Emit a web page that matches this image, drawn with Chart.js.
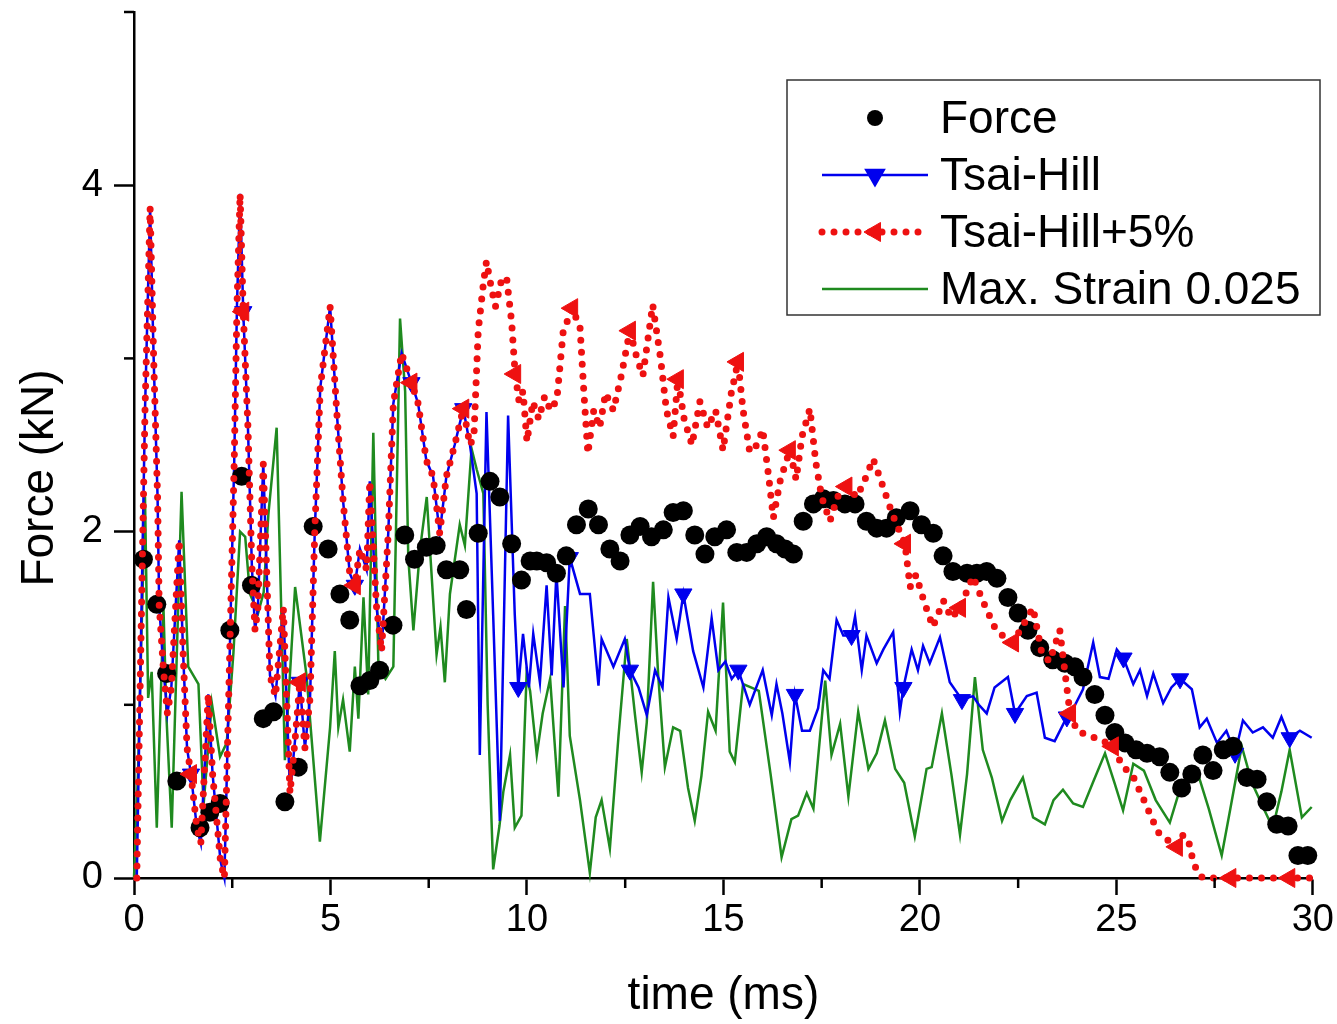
<!DOCTYPE html>
<html>
<head>
<meta charset="utf-8">
<script src="https://cdn.jsdelivr.net/npm/chart.js@4.4.1/dist/chart.umd.min.js"></script>
<style>
  body { margin: 0; background: #fff; }
  #wrap { width: 1337px; height: 1024px; }
</style>
</head>
<body>
<div id="wrap"><canvas id="forceChart"></canvas></div>
<script>
// measured force (black dots)
var forceT = [0.24, 0.58, 0.83, 1.09, 1.68, 1.93, 2.19, 2.44, 2.74, 2.99,
  3.29, 3.55, 3.84, 4.18, 4.56, 4.94, 5.24, 5.49, 5.75, 6.0,
  6.25, 6.59, 6.89, 7.14, 7.44, 7.69, 7.95, 8.29, 8.46, 8.76,
  9.06, 9.31, 9.61, 9.86, 10.08, 10.25, 10.5, 10.75, 11.0, 11.26,
  11.56, 11.82, 12.11, 12.37, 12.62, 12.88, 13.17, 13.47, 13.72, 13.98,
  14.27, 14.53, 14.78, 15.08, 15.34, 15.59, 15.85, 16.1, 16.35, 16.57,
  16.78, 17.03, 17.29, 17.54, 17.8, 18.09, 18.35, 18.64, 18.9, 19.15,
  19.4, 19.75, 20.04, 20.34, 20.59, 20.84, 21.2, 21.45, 21.7, 21.96,
  22.24, 22.5, 22.75, 23.05, 23.38, 23.69, 23.94, 24.15, 24.45, 24.71,
  24.96, 25.22, 25.5, 25.78, 26.1, 26.36, 26.66, 26.92, 27.2, 27.46,
  27.72, 27.97, 28.32, 28.58, 28.83, 29.08, 29.37, 29.62, 29.87];
var forceV = [1.84, 1.58, 1.18, 0.56, 0.29, 0.38, 0.43, 1.43, 2.32, 1.69,
  0.92, 0.96, 0.44, 0.64, 2.03, 1.90, 1.64, 1.49, 1.11, 1.14,
  1.20, 1.46, 1.98, 1.84, 1.91, 1.92, 1.78, 1.78, 1.55, 1.99,
  2.29, 2.20, 1.93, 1.72, 1.83, 1.83, 1.82, 1.76, 1.86, 2.04,
  2.13, 2.04, 1.90, 1.83, 1.98, 2.03, 1.97, 2.01, 2.11, 2.12,
  1.98, 1.87, 1.97, 2.01, 1.88, 1.88, 1.93, 1.97, 1.93, 1.90,
  1.87, 2.06, 2.16, 2.19, 2.18, 2.16, 2.16, 2.06, 2.02, 2.02,
  2.08, 2.12, 2.04, 1.99, 1.86, 1.77, 1.76, 1.76, 1.77, 1.73,
  1.62, 1.53, 1.43, 1.33, 1.26, 1.24, 1.22, 1.16, 1.06, 0.94,
  0.84, 0.78, 0.74, 0.72, 0.70, 0.61, 0.52, 0.60, 0.71, 0.62,
  0.74, 0.76, 0.58, 0.57, 0.44, 0.31, 0.30, 0.13, 0.13];

// both Tsai-Hill runs coincide up to ~8.5 ms
var sharedT = [0.07, 0.28, 0.41, 0.5, 0.6, 0.64, 0.75, 0.85, 0.95,
  1.15, 1.25, 1.35, 1.45, 1.6, 1.7, 1.89, 2.0, 2.1, 2.2,
  2.3, 2.45, 2.55, 2.62, 2.7, 2.78, 2.9, 3.0, 3.08, 3.15,
  3.29, 3.4, 3.46, 3.6, 3.8, 3.97, 4.1, 4.22, 4.35, 4.48,
  4.6, 4.74, 4.99, 5.16, 5.32, 5.49, 5.62, 5.75, 5.92, 6.0,
  6.17, 6.3, 6.47, 6.6, 6.81, 7.06, 7.23, 7.44, 7.61, 7.78,
  7.95, 8.16, 8.38, 8.55];
var sharedV = [0, 2.7, 3.87, 3.0, 2.2, 1.58, 1.2, 0.95, 1.1,
  1.95, 1.3, 0.75, 0.6, 0.29, 0.2, 1.06, 0.6, 0.35, 0.1,
  0.0, 1.43, 2.4, 3.3, 3.95, 3.27, 2.6, 1.8, 1.43, 1.55,
  2.39, 1.6, 1.17, 1.05, 1.56, 0.49, 0.8, 1.13, 0.75, 1.04,
  2.0, 2.83, 3.30, 2.69, 2.18, 1.76, 1.69, 1.90, 1.78, 2.29,
  1.57, 1.31, 1.99, 2.74, 3.03, 2.86, 2.74, 2.41, 2.32, 1.99,
  2.32, 2.50, 2.71, 2.50];

// Tsai-Hill after the split
var thT = [8.72, 8.8, 8.97, 9.14, 9.31, 9.52, 9.69, 9.78, 9.9, 10.05,
  10.16, 10.33, 10.5, 10.63, 10.75, 10.93, 11.09, 11.35, 11.6, 11.82,
  11.9, 12.2, 12.49, 12.62, 12.84, 13.05, 13.26, 13.45, 13.6, 13.81,
  13.98, 14.23, 14.49, 14.7, 14.87, 15.05, 15.21, 15.38, 15.67, 16.0,
  16.23, 16.35, 16.5, 16.69, 16.82, 17.0, 17.2, 17.41, 17.54, 17.7,
  17.88, 18.05, 18.26, 18.35, 18.52, 18.64, 18.9, 19.07, 19.32, 19.49,
  19.58, 19.79, 19.95, 20.08, 20.25, 20.51, 20.76, 21.07, 21.35, 21.5,
  21.7, 21.9, 22.24, 22.42, 22.72, 22.97, 23.18, 23.43, 23.74, 23.95,
  24.15, 24.41, 24.58, 24.8, 25.01, 25.18, 25.43, 25.6, 25.78, 25.94,
  26.19, 26.4, 26.62, 26.92, 27.12, 27.3, 27.56, 27.8, 28.02, 28.22,
  28.47, 28.73, 28.98, 29.2, 29.41, 29.67, 29.97];
var thV = [2.22, 0.71, 2.69, 1.52, 0.33, 2.67, 1.52, 1.10, 1.41, 1.1,
  1.41, 1.13, 1.69, 1.17, 1.76, 1.10, 1.85, 1.64, 1.64, 1.11,
  1.38, 1.22, 1.38, 1.20, 1.10, 0.94, 1.20, 1.1, 1.62, 1.38,
  1.64, 1.31, 1.10, 1.50, 1.20, 1.25, 1.15, 1.20, 1.0, 1.2,
  0.94, 1.12, 0.95, 0.67, 1.06, 0.85, 0.85, 0.98, 1.2, 1.15,
  1.49, 1.4, 1.40, 1.51, 1.20, 1.40, 1.24, 1.32, 1.42, 0.96,
  1.10, 1.32, 1.2, 1.34, 1.24, 1.39, 1.13, 1.03, 1.05, 1.0,
  0.95, 1.1, 1.16, 0.95, 1.05, 1.07, 0.81, 0.79, 0.93, 1.0,
  1.09, 1.36, 1.16, 1.15, 1.32, 1.27, 1.12, 1.2, 1.05, 1.18,
  1.01, 1.1, 1.15, 1.09, 0.87, 0.92, 0.78, 0.85, 0.72, 0.91,
  0.84, 0.87, 0.81, 0.93, 0.81, 0.85, 0.81];

// Tsai-Hill+5% after the split
var th5T = [8.65, 8.76, 8.9, 8.97, 9.1, 9.2, 9.35, 9.48, 9.61, 9.7,
  9.8, 9.9, 10.0, 10.15, 10.3, 10.45, 10.6, 10.76, 10.92, 11.15,
  11.35, 11.45, 11.55, 11.7, 11.85, 12.0, 12.2, 12.4, 12.62, 12.8,
  12.95, 13.2, 13.4, 13.55, 13.72, 13.84, 14.0, 14.2, 14.4, 14.6,
  14.8, 14.99, 15.2, 15.37, 15.5, 15.67, 15.85, 16.0, 16.15, 16.27,
  16.45, 16.69, 16.85, 17.0, 17.2, 17.35, 17.5, 17.71, 17.9, 18.13,
  18.4, 18.6, 18.81, 19.0, 19.3, 19.62, 19.75, 19.9, 20.1, 20.33,
  20.6, 20.8, 21.02, 21.35, 21.6, 21.9, 22.1, 22.37, 22.6, 22.88,
  23.1, 23.3, 23.56, 23.82, 24.0, 24.3, 24.6, 24.91, 25.17, 25.4,
  25.7, 25.93, 26.1, 26.3, 26.54, 26.7, 26.85, 26.95, 27.07, 27.2,
  27.9, 28.6, 29.4, 30];
var th5V = [2.55, 3.16, 3.45, 3.56, 3.4, 3.3, 3.45, 3.47, 3.21, 2.91,
  2.75, 2.81, 2.52, 2.75, 2.65, 2.78, 2.7, 2.76, 3.15, 3.29,
  3.18, 2.8, 2.45, 2.7, 2.6, 2.8, 2.7, 2.9, 3.16, 3.0,
  2.9, 3.31, 3.0, 2.7, 2.55, 2.88, 2.65, 2.5, 2.75, 2.6,
  2.7, 2.47, 2.8, 2.98, 2.7, 2.46, 2.5, 2.59, 2.32, 2.08,
  2.3, 2.47, 2.3, 2.55, 2.71, 2.4, 2.2, 2.06, 2.2, 2.26,
  2.2, 2.3, 2.42, 2.3, 2.1, 1.93, 1.68, 1.75, 1.6, 1.45,
  1.6, 1.5, 1.56, 1.74, 1.6, 1.45, 1.4, 1.36, 1.45, 1.56,
  1.3, 1.25, 1.43, 0.95, 0.85, 0.82, 0.8, 0.76, 0.64, 0.6,
  0.45, 0.33, 0.25, 0.22, 0.18, 0.25, 0.2, 0.1, 0.03, 0,
  0, 0, 0, 0];

// Max. Strain 0.025
var msT = [0.0, 0.1, 0.28, 0.36, 0.45, 0.58, 0.75, 0.83, 0.96, 1.21,
  1.38, 1.64, 1.77, 1.98, 2.19, 2.36, 2.53, 2.7, 2.83, 2.95,
  3.16, 3.3, 3.42, 3.63, 3.76, 3.84, 4.1, 4.39, 4.73, 4.99,
  5.11, 5.2, 5.32, 5.49, 5.62, 5.71, 5.84, 5.96, 6.09, 6.22,
  6.4, 6.6, 6.77, 6.9, 6.98, 7.11, 7.28, 7.45, 7.7, 7.8,
  7.91, 8.04, 8.29, 8.42, 8.59, 8.72, 8.89, 9.0, 9.14, 9.3,
  9.4, 9.57, 9.69, 9.86, 9.99, 10.08, 10.25, 10.4, 10.59, 10.8,
  10.97, 11.09, 11.35, 11.6, 11.75, 11.9, 12.11, 12.33, 12.54, 12.75,
  12.92, 13.05, 13.21, 13.34, 13.51, 13.72, 13.9, 14.1, 14.27, 14.44,
  14.61, 14.8, 14.99, 15.16, 15.29, 15.5, 15.7, 15.9, 16.2, 16.48,
  16.73, 16.9, 17.12, 17.29, 17.59, 17.75, 17.97, 18.18, 18.43, 18.69,
  18.9, 19.11, 19.37, 19.6, 19.87, 20.17, 20.3, 20.56, 20.8, 21.02,
  21.2, 21.4, 21.6, 21.83, 22.09, 22.3, 22.62, 22.88, 23.18, 23.4,
  23.64, 23.9, 24.15, 24.4, 24.71, 24.95, 25.17, 25.43, 25.7, 26.0,
  26.36, 26.6, 27.05, 27.35, 27.68, 27.9, 28.19, 28.45, 28.73, 28.98,
  29.2, 29.41, 29.72, 29.97];
var msV = [0, 0.6, 2.2, 1.04, 1.19, 0.29, 1.56, 0.91, 0.29, 2.23,
  1.22, 1.12, 0.42, 1.01, 0.70, 0.78, 1.30, 2.0, 1.97, 1.64,
  1.53, 1.65, 2.1, 2.6, 1.43, 0.68, 1.68, 1.17, 0.21, 0.87,
  1.31, 0.87, 1.03, 0.73, 1.22, 0.92, 1.62, 1.06, 2.57, 1.22,
  1.15, 1.22, 3.23, 2.81, 1.85, 1.43, 1.9, 2.20, 1.29, 1.45,
  1.13, 1.64, 2.04, 1.92, 2.48, 2.36, 2.22, 1.0, 0.05, 0.3,
  0.5, 0.71, 0.29, 0.36, 1.17, 1.08, 0.71, 0.95, 1.15, 0.47,
  1.57, 0.82, 0.45, 0.03, 0.35, 0.45, 0.17, 0.82, 1.38, 0.94,
  0.61, 0.9, 1.71, 1.17, 0.64, 0.87, 0.85, 0.52, 0.33, 0.59,
  0.96, 0.85, 1.59, 0.73, 0.67, 1.12, 1.1, 1.08, 0.6, 0.12,
  0.34, 0.36, 0.49, 0.40, 1.14, 0.71, 0.89, 0.47, 0.96, 0.63,
  0.72, 0.91, 0.63, 0.55, 0.24, 0.63, 0.64, 0.95, 0.6, 0.25,
  0.6, 1.16, 0.74, 0.58, 0.33, 0.45, 0.58, 0.35, 0.31, 0.45,
  0.51, 0.43, 0.41, 0.55, 0.72, 0.55, 0.39, 0.66, 0.62, 0.45,
  0.32, 0.5, 0.62, 0.4, 0.13, 0.4, 0.76, 0.55, 0.41, 0.29,
  0.5, 0.74, 0.35, 0.41];

// times where the symbols sit on each curve
var thMarks = [1.45, 2.78, 4.22, 5.62, 7.06, 8.38, 9.78, 11.09, 12.62, 13.98, 15.38,
  16.82, 18.26, 19.58, 21.07, 22.42, 23.74, 25.18, 26.62, 28.02, 29.41];
var th5Marks = [1.45, 2.78, 4.22, 5.62, 7.06, 8.38, 9.7, 11.15, 12.62, 13.84, 15.37,
  16.69, 18.13, 19.62, 21.02, 22.37, 23.82, 24.91, 26.54, 27.9, 29.4];

var xMajor = [0, 5, 10, 15, 20, 25, 30];
var xMinor = [2.5, 7.5, 12.5, 17.5, 22.5, 27.5];
var yMajor = [0, 2, 4];
var yMinor = [1, 3, 5];

var FONT = '"Liberation Sans", Arial, sans-serif';

function pts(t, v) {
  return t.map(function (x, i) { return { x: x, y: v[i] }; });
}
function markSet(t, marks) {
  var s = new Set();
  marks.forEach(function (m) {
    var best = 0;
    t.forEach(function (x, i) { if (Math.abs(x - m) < Math.abs(t[best] - m)) best = i; });
    s.add(best);
  });
  return s;
}

var thAllT = sharedT.concat(thT), thAllV = sharedV.concat(thV);
var th5AllT = sharedT.concat(th5T), th5AllV = sharedV.concat(th5V);
var thIdx = markSet(thAllT, thMarks);
var th5Idx = markSet(th5AllT, th5Marks);

var legendBox = {
  id: 'legendBox',
  afterDraw: function (chart) {
    var ctx = chart.ctx;
    var xs = chart.scales.x, ys = chart.scales.y;
    ctx.save();
    // minor ticks
    ctx.strokeStyle = '#000';
    ctx.lineWidth = 2.5;
    xMinor.forEach(function (v) {
      var px = xs.getPixelForValue(v);
      ctx.beginPath(); ctx.moveTo(px, ys.bottom); ctx.lineTo(px, ys.bottom + 10); ctx.stroke();
    });
    yMinor.forEach(function (v) {
      var py = ys.getPixelForValue(v);
      ctx.beginPath(); ctx.moveTo(xs.left - 10, py); ctx.lineTo(xs.left, py); ctx.stroke();
    });

    // y axis title, sits a bit below the middle of the axis
    ctx.save();
    ctx.translate(40, 478);
    ctx.rotate(-Math.PI / 2);
    ctx.font = '46px ' + FONT;
    ctx.fillStyle = '#000';
    ctx.textAlign = 'center';
    ctx.textBaseline = 'middle';
    ctx.fillText('Force (kN)', 0, 0);
    ctx.restore();

    // legend
    ctx.lineWidth = 1.5;
    ctx.strokeStyle = '#333';
    ctx.strokeRect(787, 80, 533, 235);
    var x1 = 822, x2 = 928, xm = 875, tx = 940;
    var rows = [118, 175, 232, 289];
    ctx.font = '46px ' + FONT;
    ctx.textBaseline = 'middle';
    ctx.textAlign = 'left';

    ctx.fillStyle = '#000';
    ctx.beginPath(); ctx.arc(xm, rows[0], 8, 0, Math.PI * 2); ctx.fill();

    ctx.strokeStyle = '#0000ee'; ctx.lineWidth = 2.5;
    ctx.beginPath(); ctx.moveTo(x1, rows[1]); ctx.lineTo(x2, rows[1]); ctx.stroke();
    ctx.fillStyle = '#0000ee';
    Chart.helpers.drawPoint(ctx, { pointStyle: 'triangle', radius: 10, rotation: 180, borderWidth: 1 }, xm, rows[1]);

    ctx.strokeStyle = '#ee1111'; ctx.lineWidth = 7; ctx.lineCap = 'round';
    ctx.setLineDash([0, 12]);
    ctx.beginPath(); ctx.moveTo(x1, rows[2]); ctx.lineTo(x2, rows[2]); ctx.stroke();
    ctx.setLineDash([]); ctx.lineCap = 'butt';
    ctx.fillStyle = '#ee1111'; ctx.lineWidth = 1;
    Chart.helpers.drawPoint(ctx, { pointStyle: 'triangle', radius: 11, rotation: -90, borderWidth: 1 }, xm, rows[2]);

    ctx.strokeStyle = '#1f8a1f'; ctx.lineWidth = 2.5;
    ctx.beginPath(); ctx.moveTo(x1, rows[3]); ctx.lineTo(x2, rows[3]); ctx.stroke();

    ctx.fillStyle = '#000';
    ['Force', 'Tsai-Hill', 'Tsai-Hill+5%', 'Max. Strain 0.025'].forEach(function (s, i) {
      ctx.fillText(s, tx, rows[i] + 2);
    });
    ctx.restore();
  }
};

var ctx = document.getElementById('forceChart');

var myChart = new Chart(ctx, {
  type: 'line',
  data: {
    datasets: [
      {
        label: 'Tsai-Hill+5%',
        data: pts(th5AllT, th5AllV),
        borderColor: '#ee1111',
        borderWidth: 7,
        borderDash: [0, 12],
        borderCapStyle: 'round',
        fill: false,
        tension: 0,
        clip: false,
        pointStyle: 'triangle',
        rotation: -90,
        pointRadius: function (c) { return th5Idx.has(c.dataIndex) ? 11 : 0; },
        pointBackgroundColor: '#ee1111',
        pointBorderColor: '#ee1111',
        pointBorderWidth: 1
      },
      {
        label: 'Force',
        data: pts(forceT, forceV),
        showLine: false,
        clip: false,
        pointStyle: 'circle',
        pointRadius: 9.5,
        pointBackgroundColor: '#000',
        pointBorderColor: '#000',
        pointBorderWidth: 0
      },
      {
        label: 'Tsai-Hill',
        data: pts(thAllT, thAllV),
        borderColor: '#0000ee',
        borderWidth: 2.5,
        fill: false,
        tension: 0,
        clip: false,
        pointStyle: 'triangle',
        rotation: 180,
        pointRadius: function (c) { return thIdx.has(c.dataIndex) ? 10 : 0; },
        pointBackgroundColor: '#0000ee',
        pointBorderColor: '#0000ee',
        pointBorderWidth: 1
      },
      {
        label: 'Max. Strain 0.025',
        data: pts(msT, msV),
        borderColor: '#1f8a1f',
        borderWidth: 2.5,
        fill: false,
        tension: 0,
        clip: false,
        pointRadius: 0
      }
    ]
  },
  options: {
    responsive: true,
    maintainAspectRatio: false,
    animation: false,
    events: [],
    layout: { padding: { top: 12, right: 24, left: 0, bottom: 0 } },
    plugins: {
      legend: { display: false },
      tooltip: { enabled: false }
    },
    scales: {
      x: {
        type: 'linear',
        min: 0,
        max: 30,
        afterFit: function (s) { s.height = 146; },
        afterBuildTicks: function (s) { s.ticks = xMajor.map(function (v) { return { value: v }; }); },
        grid: { drawOnChartArea: false, drawTicks: true, tickLength: 17, tickColor: '#000', tickWidth: 2.5 },
        border: { display: true, color: '#000', width: 2.5 },
        ticks: { color: '#000', padding: 3, maxRotation: 0, font: { family: FONT, size: 38 } },
        title: { display: true, text: 'time (ms)', color: '#000', padding: { top: 0, bottom: 0 }, font: { family: FONT, size: 46 } }
      },
      y: {
        type: 'linear',
        min: 0,
        max: 5,
        // fixed width, and no extra room above the axis for the labels
        afterFit: function (s) { s.width = 134; s.paddingTop = 0; s.paddingBottom = 0; },
        afterBuildTicks: function (s) { s.ticks = yMajor.map(function (v) { return { value: v }; }); },
        grid: { drawOnChartArea: false, drawTicks: true, tickLength: 20, tickColor: '#000', tickWidth: 2.5 },
        border: { display: true, color: '#000', width: 2.5 },
        ticks: { color: '#000', padding: 11, font: { family: FONT, size: 38 } },
        title: { display: false }
      }
    }
  },
  plugins: [legendBox]
});
</script>
</body>
</html>
